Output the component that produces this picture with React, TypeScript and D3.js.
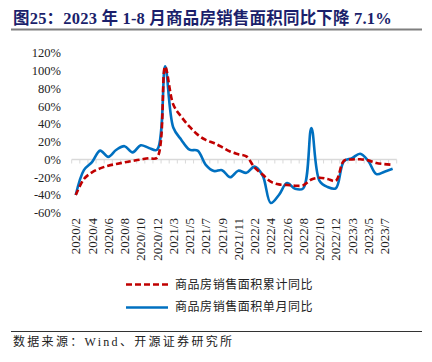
import React from "react";
import * as d3 from "d3";

const categories = [
  "2020/2","2020/3","2020/4","2020/5","2020/6","2020/7","2020/8","2020/9","2020/10","2020/11","2020/12",
  "2021/2","2021/3","2021/4","2021/5","2021/6","2021/7","2021/8","2021/9","2021/10","2021/11","2021/12",
  "2022/2","2022/3","2022/4","2022/5","2022/6","2022/7","2022/8","2022/9","2022/10","2022/11","2022/12",
  "2023/2","2023/3","2023/4","2023/5","2023/6","2023/7","2023/8",
];

// 商品房销售面积累计同比 (%)
const cumulative = [
  -40, -22, -14.5, -10, -7, -5, -3.2, -1.5, 0, 1.5, 2,
  104.5, 62, 48, 37, 28, 22, 18.5, 14, 9, 6, 3.5,
  -9, -17, -25, -28, -28.7, -29.5, -29, -22.5, -20.5, -22, -24,
  -1.5, 0, 0.3, -1, -4, -5.2, -6,
];

// 商品房销售面积单月同比 (%)
const monthly = [
  -40, -12, -3, 10, 3, 11, 15, 8, 16, 13, 11,
  105, 36, 22, 11, 10, -6, -13, -12, -20, -12.6, -15,
  -8, -18, -49, -40, -26.5, -33, -32.5, 35.5, -24, -31, -32.5,
  -2, 1.5, 6.5, -1.5, -16.5, -13.7, -10.5,
];

const yTicks = [-60, -40, -20, 0, 20, 40, 60, 80, 100, 120];

const title = "图25：2023 年 1-8 月商品房销售面积同比下降 7.1%";
const legendLabels = ["商品房销售面积累计同比", "商品房销售面积单月同比"];
const sourceText = "数据来源：Wind、开源证券研究所";

const serif = "'Liberation Serif', 'Times New Roman', 'Noto Sans CJK SC', serif";
const cjk = "'Noto Sans CJK SC', 'Liberation Serif', sans-serif";

export default function App() {
  const W = 432, H = 362;
  const x = d3.scaleBand<string>().domain(categories).range([71.7, 396.7]).paddingInner(0).paddingOuter(0);
  const bw = x.bandwidth();
  const cx = (c: string) => (x(c) as number) + bw / 2;
  const y = d3.scaleLinear().domain([-60, 120]).range([212.8, 52.9]);

  const line = d3
    .line<number>()
    .x((_, i) => cx(categories[i]))
    .y((d) => y(d))
    .curve(d3.curveCatmullRom.alpha(0.5));

  const boundaries = categories.map((c) => x(c) as number).concat([(x(categories[categories.length - 1]) as number) + bw]);

  return (
    <svg width={W} height={H} style={{ position: "absolute", left: 0, top: 0, background: "#fff" }}>
      <rect x={0} y={0} width={W} height={H} fill="#fff" />
      <text x={13} y={24} fontFamily={serif} fontWeight="bold" fontSize={16.5} letterSpacing={0.2} fill="#1b1f6b">
        {title}
      </text>
      <line x1={11} x2={422} y1={29.5} y2={29.5} stroke="#7f7f7f" strokeWidth={1.8} />

      {/* y axis labels */}
      {yTicks.map((t) => (
        <text key={t} x={61} y={y(t)} dy="0.35em" textAnchor="end" fontFamily={serif} fontSize={12.5} fill="#222">
          {`${t}%`}
        </text>
      ))}

      {/* zero axis */}
      <line x1={71.7} x2={396.7} y1={y(0)} y2={y(0)} stroke="#d9d9d9" strokeWidth={1.5} />
      {boundaries.map((b, i) => (
        <line key={i} x1={b} x2={b} y1={y(0)} y2={y(0) + 4} stroke="#d9d9d9" strokeWidth={1} />
      ))}

      {/* x labels */}
      {categories.map((c, i) =>
        i % 2 === 0 ? (
          <text
            key={c}
            transform={`translate(${cx(c)},218) rotate(-90)`}
            textAnchor="end"
            dy="0.35em"
            fontFamily={serif}
            fontSize={13}
            fill="#222"
          >
            {c}
          </text>
        ) : null
      )}

      {/* series */}
      <path d={line(monthly) || ""} fill="none" stroke="#0070C0" strokeWidth={2.6} strokeLinejoin="round" />
      <path d={line(cumulative) || ""} fill="none" stroke="#C00000" strokeWidth={2.6} strokeDasharray="6,3" />

      {/* legend */}
      <line x1={126} x2={168} y1={284.5} y2={284.5} stroke="#C00000" strokeWidth={2.6} strokeDasharray="6,3" />
      <text x={175} y={285} dy="0.35em" fontFamily={cjk} fontSize={12} letterSpacing={0.55} fill="#222">
        {legendLabels[0]}
      </text>
      <line x1={126} x2={168} y1={307.5} y2={307.5} stroke="#0070C0" strokeWidth={2.6} />
      <text x={175} y={307} dy="0.35em" fontFamily={cjk} fontSize={12} letterSpacing={0.55} fill="#222">
        {legendLabels[1]}
      </text>

      <line x1={11} x2={422} y1={331.5} y2={331.5} stroke="#333" strokeWidth={1.2} />
      <text x={13} y={346} fontFamily={serif} fontSize={12} letterSpacing={2.3} fill="#222">
        {sourceText}
      </text>
    </svg>
  );
}
